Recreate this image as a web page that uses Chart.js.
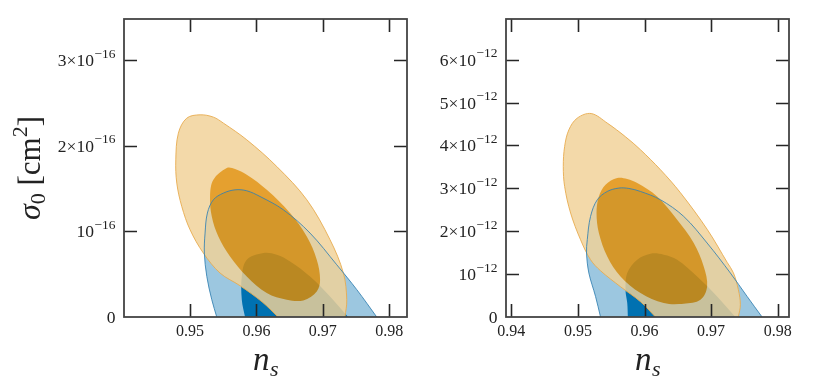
<!DOCTYPE html>
<html>
<head>
<meta charset="utf-8">
<script src="https://cdn.jsdelivr.net/npm/chart.js@4/dist/chart.umd.min.js"></script>
<style>
  html, body { margin: 0; padding: 0; background: #fff; }
  #wrap { position: relative; width: 830px; height: 383px; }
  canvas { position: absolute; top: 0; }
</style>
</head>
<body>
<div id="wrap">
  <canvas id="leftChart" width="415" height="383" style="left:0"></canvas>
  <canvas id="rightChart" width="415" height="383" style="left:415px"></canvas>
</div>
<script>
// ---- DATA (n_s, sigma_0) ----
// left panel: sigma_0 in units of 1e-16 cm^2, right panel: 1e-12 cm^2
// regions cut by sigma_0 = 0 run a little below the axis (hidden by the clip)

const leftXTicks = [0.95, 0.96, 0.97, 0.98];
const leftYTicks = [0, 1, 2, 3];
const leftExp = '\u221216';

const rightXTicks = [0.94, 0.95, 0.96, 0.97, 0.98];
const rightYTicks = [0, 1, 2, 3, 4, 5, 6];
const rightExp = '\u221212';

const leftBlueOuter = [
  [0.9809, -0.3], [0.97811, 0], [0.97511, 0.319], [0.97209, 0.610], [0.96807, 0.980],
  [0.96405, 1.252], [0.96054, 1.407], [0.95854, 1.474], [0.95678, 1.485], [0.95502, 1.447],
  [0.95351, 1.369], [0.95261, 1.214], [0.95226, 0.980], [0.95215, 0.747], [0.95252, 0.474],
  [0.95327, 0.202], [0.95402, 0], [0.9551, -0.3], [0.9809, -0.3]
];
const leftBlueInner = [
  [0.9772, -0.3], [0.9738, 0], [0.97108, 0.240], [0.96807, 0.474], [0.96506, 0.649],
  [0.96306, 0.727], [0.96104, 0.747], [0.95854, 0.669], [0.95779, 0.474], [0.95779, 0.202],
  [0.95828, 0], [0.9590, -0.3], [0.9772, -0.3]
];
const leftOrangeOuter = [
  [0.9730, -0.3], [0.97334, 0], [0.97360, 0.202], [0.97309, 0.513], [0.97108, 0.902],
  [0.96758, 1.369], [0.96306, 1.757], [0.95854, 2.069], [0.95502, 2.264], [0.95351, 2.334],
  [0.95151, 2.361], [0.94950, 2.322], [0.94824, 2.147], [0.94785, 1.835], [0.94800, 1.564],
  [0.94875, 1.291], [0.95000, 1.019], [0.95200, 0.747], [0.95452, 0.513], [0.95753, 0.365],
  [0.96084, 0.177], [0.96325, 0], [0.9673, -0.3], [0.9730, -0.3]
];
const leftOrangeInner = [
  [0.96456, 0.202], [0.96706, 0.194], [0.96908, 0.299], [0.96958, 0.435], [0.96908, 0.669],
  [0.96758, 0.940], [0.96506, 1.214], [0.96155, 1.485], [0.95854, 1.660], [0.95678, 1.727],
  [0.95553, 1.739], [0.95351, 1.602], [0.95301, 1.407], [0.95327, 1.174], [0.95426, 0.940],
  [0.95602, 0.707], [0.95854, 0.474], [0.96155, 0.280], [0.96456, 0.202]
];

const rightBlueOuter = [
  [0.9805, -0.6], [0.97765, 0], [0.97540, 0.480], [0.97289, 1.026], [0.96940, 1.725],
  [0.96589, 2.345], [0.96240, 2.734], [0.95940, 2.928], [0.95765, 2.998], [0.95615, 3.007],
  [0.95441, 2.928], [0.95291, 2.734], [0.95190, 2.345], [0.95141, 1.802], [0.95130, 1.492],
  [0.95165, 1.026], [0.95265, 0.480], [0.95340, 0], [0.9543, -0.6], [0.9805, -0.6]
];
const rightBlueInner = [
  [0.9771, -0.6], [0.97364, 0], [0.97090, 0.480], [0.96790, 0.946], [0.96490, 1.336],
  [0.96289, 1.453], [0.96090, 1.476], [0.95891, 1.336], [0.95741, 1.026], [0.95715, 0.636],
  [0.95741, 0.326], [0.95750, 0], [0.9576, -0.6], [0.9771, -0.6]
];
const rightOrangeOuter = [
  [0.9735, -0.6], [0.97409, 0], [0.97439, 0.287], [0.97409, 0.636], [0.97334, 1.033],
  [0.97244, 1.266], [0.96945, 2.035], [0.96540, 2.897], [0.96240, 3.434], [0.95940, 3.900],
  [0.95715, 4.203], [0.95441, 4.522], [0.95200, 4.745], [0.94991, 4.639],
  [0.94865, 4.366], [0.94801, 3.977], [0.94781, 3.510], [0.94801, 3.044], [0.94891, 2.424],
  [0.95040, 1.802], [0.95190, 1.336], [0.95340, 1.079], [0.95640, 0.706], [0.95940, 0.357],
  [0.96165, 0], [0.9654, -0.6], [0.9735, -0.6]
];
const rightOrangeInner = [
  [0.96589, 0.310], [0.96840, 0.403], [0.96940, 0.713], [0.96889, 1.179], [0.96739, 1.725],
  [0.96490, 2.268], [0.96190, 2.811], [0.95891, 3.124], [0.95741, 3.217], [0.95591, 3.240],
  [0.95415, 3.084], [0.95315, 2.811], [0.95280, 2.424], [0.95315, 1.958], [0.95441, 1.413],
  [0.95640, 0.946], [0.95940, 0.559], [0.96289, 0.326], [0.96589, 0.310]
];

// ---- STYLE ----
const SERIF = "'Liberation Serif', 'DejaVu Serif', serif";
const TEXT = '#222';

function pts(arr) {
    return arr.map(p => ({ x: p[0], y: p[1] }));
}

// closed loop: repeat a neighbour at each end so the spline has no corner at the seam
function loop(arr) {
    const n = arr.length;
    return [arr[n - 2]].concat(arr, [arr[1]]);
}

function region(data, bg, extra) {
    return Object.assign({
        data: pts(data),
        showLine: true,
        fill: 'shape',
        backgroundColor: bg,
        borderColor: bg,
        borderWidth: 0,
        pointRadius: 0,
        tension: 0.35,
        capBezierPoints: false,
        clip: 0
    }, extra || {});
}

function buildDatasets(blueOuter, blueInner, orangeOuter, orangeInner) {
    const list = [
        region(blueOuter, '#9cc7e0'),
        region(blueInner, '#0071b1'),
        region(orangeOuter, 'rgba(240,209,152,0.83)', { borderColor: 'rgba(232,172,80,0.9)', borderWidth: 1 }),
        // inner orange: darkens the outer orange the way a group alpha would
        region(loop(orangeInner), 'rgb(14,57,122)', { blend: 'difference' }),
        region(blueOuter, 'rgba(0,0,0,0)', { fill: false, borderColor: 'rgba(50,128,178,0.85)', borderWidth: 1 })
    ];
    list.forEach((d, i) => { d.order = -i; });
    return list;
}

// opaque white canvas + composite mode for the next dataset's fill
// (the filler draws before this plugin's beforeDatasetDraw hook)
const blendPlugin = {
    id: 'blend',
    beforeDraw(chart) {
        const ctx = chart.ctx;
        ctx.save();
        ctx.fillStyle = '#fff';
        ctx.fillRect(0, 0, chart.width, chart.height);
        ctx.restore();
    },
    beforeDatasetsDraw(chart) {
        chart.ctx.globalCompositeOperation = 'source-over';
    },
    afterDatasetDraw(chart, args) {
        const next = chart.data.datasets[args.index + 1];
        chart.ctx.globalCompositeOperation = (next && next.blend) || 'source-over';
    },
    afterDatasetsDraw(chart) {
        chart.ctx.globalCompositeOperation = 'source-over';
    }
};

function drawPower(ctx, xRight, yMid, mant, exp) {
    const base = '17.5px ' + SERIF, sup = '13.5px ' + SERIF;
    ctx.textAlign = 'left';
    ctx.textBaseline = 'alphabetic';
    if (mant === 0) {
        ctx.font = base;
        ctx.fillText('0', xRight - ctx.measureText('0').width, yMid + 5.5);
        return;
    }
    const txt = mant === 1 ? '10' : mant + '\u00d710';
    ctx.font = sup;
    const we = ctx.measureText(exp).width;
    ctx.font = base;
    const wb = ctx.measureText(txt).width;
    ctx.fillText(txt, xRight - we - wb - 0.5, yMid + 6);
    ctx.font = sup;
    ctx.fillText(exp, xRight - we, yMid - 2.5);
}

// frame, inward ticks on all four sides, tick labels, axis titles
const framePlugin = {
    id: 'frame',
    afterDatasetsDraw(chart, args, o) {
        const { ctx, chartArea: a, scales: { x, y } } = chart;
        const len = 13;
        ctx.save();
        ctx.strokeStyle = '#262626';
        ctx.lineWidth = 1.6;
        ctx.beginPath();
        o.xTicks.forEach(v => {
            const px = Math.round(x.getPixelForValue(v)) + 0.5;
            ctx.moveTo(px, a.bottom); ctx.lineTo(px, a.bottom - len);
            ctx.moveTo(px, a.top); ctx.lineTo(px, a.top + len);
        });
        o.yTicks.forEach(v => {
            if (v === 0) return;
            const py = Math.round(y.getPixelForValue(v)) + 0.5;
            ctx.moveTo(a.left, py); ctx.lineTo(a.left + len, py);
            ctx.moveTo(a.right, py); ctx.lineTo(a.right - len, py);
        });
        ctx.stroke();

        ctx.strokeStyle = '#444';
        ctx.lineWidth = 1.8;
        ctx.strokeRect(a.left, a.top, a.right - a.left, a.bottom - a.top);

        // tick labels
        ctx.fillStyle = TEXT;
        ctx.font = '16px ' + SERIF;
        ctx.textAlign = 'center';
        ctx.textBaseline = 'alphabetic';
        o.xTicks.forEach(v => {
            ctx.fillText(v.toFixed(2), x.getPixelForValue(v), a.bottom + 18.5);
        });
        o.yTicks.forEach(v => {
            drawPower(ctx, a.left - 8.5, y.getPixelForValue(v), v, o.exp);
        });

        // x title: n_s
        const cx = (a.left + a.right) / 2;
        ctx.font = 'italic 33px ' + SERIF;
        const wn = ctx.measureText('n').width;
        ctx.font = 'italic 22px ' + SERIF;
        const ws = ctx.measureText('s').width;
        ctx.textAlign = 'left';
        ctx.font = 'italic 33px ' + SERIF;
        ctx.fillText('n', cx - (wn + ws) / 2, 370);
        ctx.font = 'italic 22px ' + SERIF;
        ctx.fillText('s', cx - (wn + ws) / 2 + wn + 0.5, 376);

        // y title: sigma_0 [cm^2]
        if (o.yTitle) {
            const parts = [
                { t: '\u03c3', f: 'italic 32px ' + SERIF, dy: 0 },
                { t: '0', f: '22px ' + SERIF, dy: 5 },
                { t: ' [cm', f: '31px ' + SERIF, dy: 0 },
                { t: '2', f: '22px ' + SERIF, dy: -13 },
                { t: ']', f: '31px ' + SERIF, dy: 0 }
            ];
            let total = 0;
            parts.forEach(p => { ctx.font = p.f; p.w = ctx.measureText(p.t).width; total += p.w; });
            ctx.translate(40, (a.top + a.bottom) / 2);
            ctx.rotate(-Math.PI / 2);
            let cur = -total / 2;
            parts.forEach(p => {
                ctx.font = p.f;
                ctx.fillText(p.t, cur, p.dy);
                cur += p.w;
            });
        }
        ctx.restore();
    }
};

function makeChart(id, datasets, xr, yr, pad, frameOpts) {
    return new Chart(document.getElementById(id), {
        type: 'scatter',
        data: { datasets },
        plugins: [blendPlugin, framePlugin],
        options: {
            responsive: false,
            animation: false,
            events: [],
            layout: { padding: pad },
            plugins: {
                legend: { display: false },
                tooltip: { enabled: false },
                frame: frameOpts
            },
            scales: {
                x: { type: 'linear', display: false, min: xr[0], max: xr[1] },
                y: { type: 'linear', display: false, min: yr[0], max: yr[1] }
            }
        }
    });
}

makeChart('leftChart',
    buildDatasets(leftBlueOuter, leftBlueInner, leftOrangeOuter, leftOrangeInner),
    [0.94005, 0.98267], [0, 3.48],
    { left: 124, top: 19, right: 8, bottom: 66 },
    { xTicks: leftXTicks, yTicks: leftYTicks, exp: leftExp, yTitle: true });

makeChart('rightChart',
    buildDatasets(rightBlueOuter, rightBlueInner, rightOrangeOuter, rightOrangeInner),
    [0.93921, 0.98169], [0, 6.95],
    { left: 91, top: 19, right: 41, bottom: 66 },
    { xTicks: rightXTicks, yTicks: rightYTicks, exp: rightExp, yTitle: false });
</script>
</body>
</html>
